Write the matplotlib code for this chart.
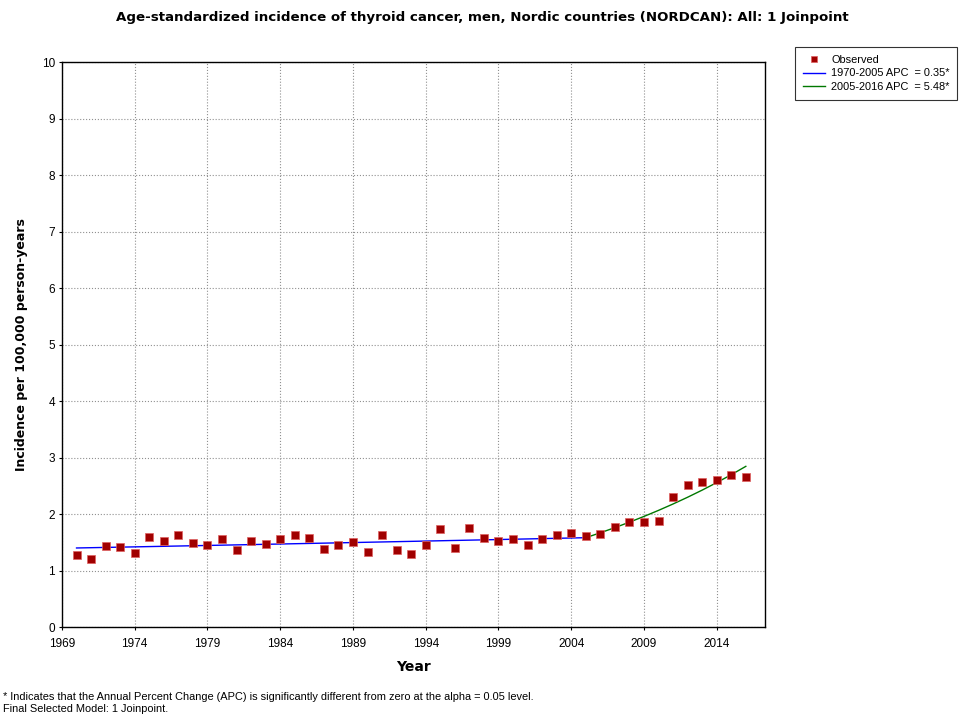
import numpy as np
import matplotlib.pyplot as plt

# observed age-standardized incidence, men
years = list(range(1970, 2017))
observed = [1.27, 1.20, 1.43, 1.42, 1.31, 1.59, 1.52, 1.63, 1.49, 1.45,
            1.56, 1.36, 1.52, 1.47, 1.56, 1.63, 1.58, 1.38, 1.45, 1.50,
            1.33, 1.63, 1.36, 1.29, 1.45, 1.73, 1.40, 1.75, 1.58, 1.52,
            1.56, 1.45, 1.56, 1.63, 1.66, 1.61, 1.65, 1.77, 1.86, 1.86,
            1.88, 2.30, 2.51, 2.57, 2.60, 2.69, 2.65]

# joinpoint model: segments and annual percent change
segments = [(1970, 2005), (2005, 2016)]
apc = [0.35, 5.48]
start_value = 1.40
seg_colors = ["#0000ff", "#007800"]

fig = plt.figure(figsize=(9.64, 7.15), dpi=100)
ax = fig.add_axes([0.0643, 0.123, 0.729, 0.790])

ax.plot(years, observed, ls="none", marker="s", ms=5.5, color="#a00000",
        mec="#e06060", mew=0.5, label="Observed", zorder=4)

level = start_value
for (y0, y1), a, c in zip(segments, apc, seg_colors):
    t = np.arange(y0, y1 + 1)
    fit = level * (1 + a / 100) ** (t - y0)
    ax.plot(t, fit, color=c, lw=1, zorder=3,
            label="%d-%d APC  = %.2f*" % (y0, y1, a))
    level = fit[-1]

ax.set_xlim(1969, 2017.3)
ax.set_ylim(0, 10)
ax.set_xticks(range(1969, 2015, 5))
ax.set_yticks(range(0, 11))
ax.tick_params(labelsize=8.5, length=2)
ax.tick_params(axis="x", pad=6)
ax.tick_params(axis="y", pad=3)
for lab in ax.get_xticklabels() + ax.get_yticklabels():
    lab.set_fontfamily("Liberation Sans")
ax.grid(True, ls=":", color="#909090", lw=0.8)
for s in ax.spines.values():
    s.set_linewidth(1)
    s.set_color("black")

ax.set_xlabel("Year", fontsize=10, fontweight="bold", labelpad=7)
ax.set_ylabel("Incidence per 100,000 person-years", fontsize=9,
              fontweight="bold", labelpad=10)
fig.text(0.5, 0.975, "Age-standardized incidence of thyroid cancer, men, Nordic countries (NORDCAN): All: 1 Joinpoint",
         ha="center", va="center", fontsize=9.6, fontweight="bold")

leg = ax.legend(loc="upper left", bbox_to_anchor=(1.043, 1.027),
                frameon=True, fancybox=False, edgecolor="black",
                handlelength=2.0, handletextpad=0.6, borderpad=0.7,
                labelspacing=0.35, borderaxespad=0, markerscale=0.7,
                prop={"family": "Liberation Sans", "size": 7.9})
leg.get_frame().set_linewidth(0.8)

fig.text(0.003, 0.025, "* Indicates that the Annual Percent Change (APC) is significantly different from zero at the alpha = 0.05 level.",
         fontsize=7.9, family="Liberation Sans", va="center")
fig.text(0.003, 0.009, "Final Selected Model: 1 Joinpoint.",
         fontsize=7.9, family="Liberation Sans", va="center")

fig.savefig("out.png", dpi=100)
